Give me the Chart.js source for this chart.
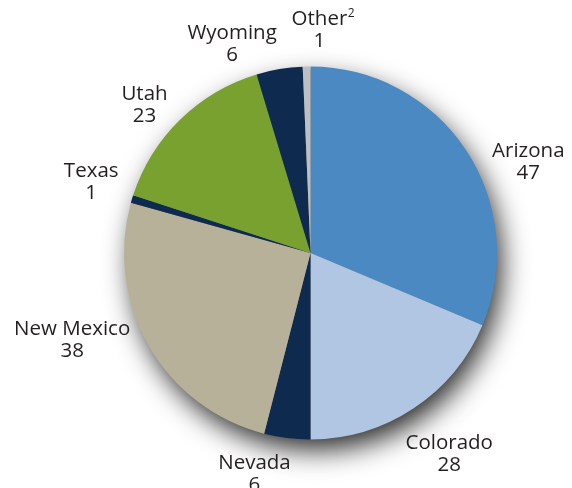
<!DOCTYPE html>
<html><head><meta charset="utf-8">
<script src="https://cdn.jsdelivr.net/npm/chart.js@4"></script>
<style>html,body{margin:0;padding:0;background:#fff}#c{display:block}</style>
</head><body>
<canvas id="c" width="572" height="488"></canvas>
<script>
const categories = ["Arizona","Colorado","Nevada","New Mexico","Texas","Utah","Wyoming","Other"];
const superscripts = ["","","","","","","","2"];
const values = [47,28,6,38,1,23,6,1];
const colors = ["#4a89c1","#b0c6e2","#0e2a4e","#b8b199","#0e2a4e","#78a12f","#0e2a4e","#bcc0c4"];
// label placement: angle shift (deg) from slice middle, distance as fraction of radius
const labelAngleShift = [11,-1,7,10,1,-4,-11,3.5];
const labelDistFactor = [1.265,1.31,1.225,1.36,1.235,1.19,1.195,1.195];

const shadowPlugin = {
  id:'shadow',
  beforeDatasetsDraw(chart){
    const arc = chart.getDatasetMeta(0).data[0];
    if(!arc) return;
    const ctx = chart.ctx;
    ctx.save();
    ctx.shadowColor = 'rgba(0,0,0,0.85)';
    ctx.shadowBlur = 28;
    ctx.shadowOffsetX = 6;
    ctx.shadowOffsetY = 12;
    ctx.fillStyle = '#777';
    ctx.beginPath();
    ctx.arc(arc.x, arc.y, arc.outerRadius-2, 0, Math.PI*2);
    ctx.fill();
    ctx.restore();
  }
};
const labelPlugin = {
  id:'outLabels',
  afterDatasetsDraw(chart){
    const ctx = chart.ctx;
    const meta = chart.getDatasetMeta(0);
    const mainFont = '20.5px "Open Sans", sans-serif';
    ctx.save();
    ctx.fillStyle = '#231f20';
    ctx.textAlign = 'center';
    ctx.textBaseline = 'middle';
    meta.data.forEach((a,i)=>{
      const mid = (a.startAngle + a.endAngle)/2 + labelAngleShift[i]*Math.PI/180;
      const d = a.outerRadius*labelDistFactor[i];
      const x = a.x + Math.cos(mid)*d;
      const y = a.y + Math.sin(mid)*d;
      ctx.font = mainFont;
      const name = categories[i];
      ctx.fillText(name, x, y-11);
      if(superscripts[i]){
        const w = ctx.measureText(name).width;
        ctx.font = '12px "Open Sans", sans-serif';
        ctx.textAlign = 'left';
        ctx.fillText(superscripts[i], x + w/2 + 0.5, y-17);
        ctx.textAlign = 'center';
        ctx.font = mainFont;
      }
      ctx.fillText(String(values[i]), x, y+11);
    });
    ctx.restore();
  }
};

new Chart(document.getElementById('c'), {
  type:'pie',
  data:{labels:categories, datasets:[{data:values, backgroundColor:colors, borderWidth:0}]},
  options:{
    responsive:false, animation:false,
    layout:{padding:{left:124,right:75,top:66.5,bottom:48.5}},
    plugins:{legend:{display:false}, tooltip:{enabled:false}}
  },
  plugins:[shadowPlugin,labelPlugin]
});
</script>
</body></html>
